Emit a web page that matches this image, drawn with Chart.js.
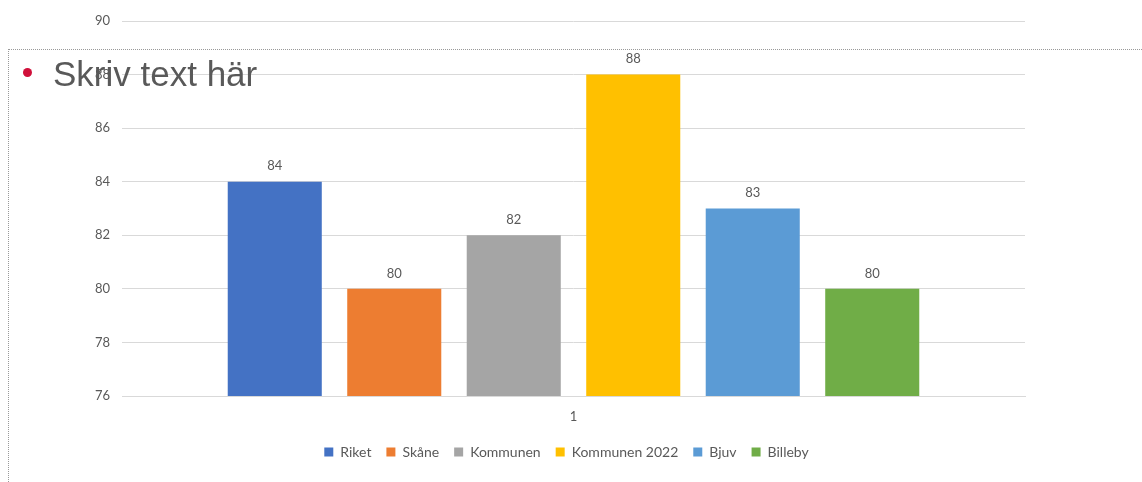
<!DOCTYPE html>
<html>
<head>
<meta charset="utf-8">
<title>Skriv text här</title>
<script src="https://cdn.jsdelivr.net/npm/chart.js@4.4.0/dist/chart.umd.min.js"></script>
<style>
	body { margin: 0; background: #fff; }
	#wrap { position: relative; width: 1142px; height: 482px; }
	#box { position: absolute; left: 8px; top: 49px; right: 0; bottom: 0; border-top: 1px dotted #999; border-left: 1px dotted #999; pointer-events: none; }
	#bullet { position: absolute; left: 23px; top: 68px; width: 9px; height: 9px; border-radius: 50%; background: #d0103a; }
	#title { position: absolute; left: 53px; top: 56px; font: 35px/35px "Liberation Sans", Arial, sans-serif; color: #595959; white-space: nowrap; pointer-events: none; }
</style>
</head>
<body>
<div id="wrap">
	<canvas id="mycanvas" width="1142" height="482"></canvas>
	<div id="box"></div>
	<div id="bullet"></div>
	<div id="title">Skriv text här</div>
</div>
<script>
var categories = ["1"];
var seriesNames = ["Riket", "Skåne", "Kommunen", "Kommunen 2022", "Bjuv", "Billeby"];
var seriesValues = [84, 80, 82, 88, 83, 80];
var seriesColors = ["#4472c4", "#ed7d31", "#a5a5a5", "#ffc000", "#5b9bd5", "#70ad47"];
var yMin = 76, yMax = 90, yStep = 2;

Chart.defaults.font.family = "Lato, sans-serif";
Chart.defaults.font.size = 13;
Chart.defaults.color = "#595959";

// number above every bar
var valueLabels = {
	id: "valueLabels",
	afterDatasetsDraw: function(chart) {
		var ctx = chart.ctx;
		ctx.save();
		ctx.font = "13px Lato, sans-serif";
		ctx.fillStyle = "#595959";
		ctx.textAlign = "center";
		ctx.textBaseline = "bottom";
		chart.data.datasets.forEach(function(ds, i) {
			chart.getDatasetMeta(i).data.forEach(function(bar, j) {
				ctx.fillText(ds.data[j], bar.x, bar.y - 9);
			});
		});
		ctx.restore();
	}
};

// centre the legend (roughly) under the plot area instead of the whole canvas
var legendUnderPlot = {
	id: "legendUnderPlot",
	afterLayout: function(chart) {
		var lg = chart.legend;
		var target = (chart.chartArea.left + chart.chartArea.right) / 2 - 7;
		var shift = target - (lg.left + lg.right) / 2;
		lg.left += shift;
		lg.right += shift;
	}
};

var datasets = [];
for (var i in seriesNames) {
	datasets.push({
		label: seriesNames[i],
		data: [seriesValues[i]],
		backgroundColor: seriesColors[i],
		barPercentage: 0.787,
		categoryPercentage: 0.794
	});
}

var ctx = document.getElementById("mycanvas");
var barGraph = new Chart(ctx, {
	type: "bar",
	data: { labels: categories, datasets: datasets },
	plugins: [valueLabels, legendUnderPlot],
	options: {
		responsive: false,
		animation: false,
		layout: { padding: { left: 0, right: 117, top: 21, bottom: 13 } },
		plugins: {
			tooltip: { enabled: false },
			legend: {
				position: "bottom",
				labels: { boxWidth: 9, boxHeight: 9, padding: 15, font: { size: 14 } }
			}
		},
		scales: {
			x: {
				grid: { display: false, drawTicks: false },
				border: { color: "#d9d9d9" },
				ticks: { padding: 13 },
				afterFit: function(scale) { scale.height = 34; }
			},
			y: {
				min: yMin,
				max: yMax,
				border: { display: false },
				grid: { color: "#d9d9d9", drawTicks: false },
				ticks: { stepSize: yStep, padding: 12 },
				afterFit: function(scale) { scale.width = 122; }
			}
		}
	}
});
</script>
</body>
</html>
